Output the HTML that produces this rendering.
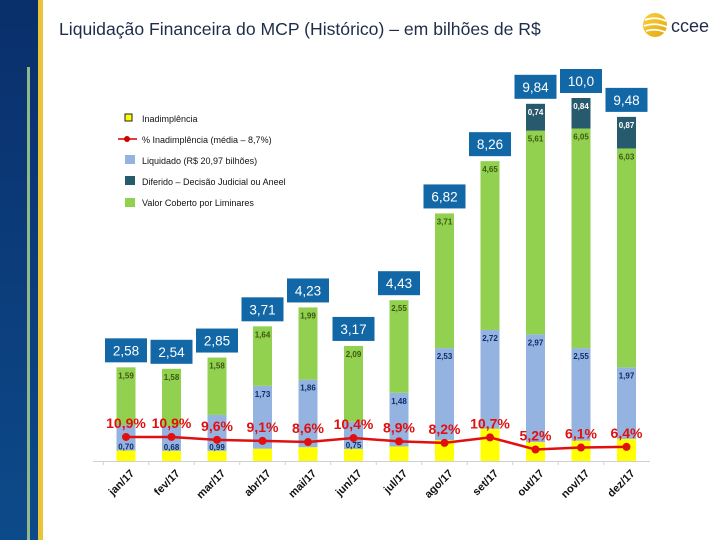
<!DOCTYPE html>
<html><head><meta charset="utf-8"><style>
body{margin:0;width:720px;height:540px;overflow:hidden;background:#fff;font-family:"Liberation Sans",sans-serif}
</style></head><body>
<svg id="c" width="720" height="540" xmlns="http://www.w3.org/2000/svg">
<defs><linearGradient id="lg" x1="0" y1="0" x2="0" y2="1"><stop offset="0" stop-color="#0a2f6b"/><stop offset="1" stop-color="#0d4a8a"/></linearGradient>
<linearGradient id="sun" x1="0" y1="0" x2="1" y2="1"><stop offset="0" stop-color="#f7d23a"/><stop offset="1" stop-color="#e3a712"/></linearGradient></defs>
<rect x="0" y="0" width="38" height="540" fill="url(#lg)"/>
<rect x="38" y="0" width="5" height="540" fill="#e9c43a"/>
<rect x="27" y="67" width="3" height="473" fill="#8fb98a"/>
<text x="59" y="35" font-size="17.6" fill="#1f2d4a">Liquidação Financeira do MCP (Histórico) – em bilhões de R$</text>
<g>
<circle cx="655" cy="25" r="12" fill="url(#sun)"/>
<path d="M645 20 Q655 16 666 21 M644 26 Q655 22 667 27 M646 31 Q655 28 665 32" stroke="#fff" stroke-width="1.8" fill="none"/>
<text x="671" y="32" font-size="18" fill="#1f2d4a">ccee</text></g>
<g font-size="9" fill="#111">
<g><rect x="125" y="114" width="7" height="7" fill="#ffff00" stroke="#222" stroke-width="1"/><text x="142" y="122">Inadimplência</text></g>
<g><line x1="118" y1="139" x2="137" y2="139" stroke="#d10000" stroke-width="1.5"/><circle cx="127" cy="139" r="3" fill="#d10000"/><text x="142" y="143">% Inadimplência (média – 8,7%)</text></g>
<g><rect x="125" y="155" width="10" height="9" fill="#95b3e0"/><text x="142" y="164">Liquidado   (R$ 20,97 bilhões)</text></g>
<g><rect x="125" y="176" width="10" height="9" fill="#285a6e"/><text x="142" y="185">Diferido – Decisão Judicial ou Aneel</text></g>
<g><rect x="125" y="198" width="10" height="9" fill="#92d050"/><text x="142" y="206">Valor Coberto por Liminares</text></g>
</g>
<line x1="93" y1="461.5" x2="650" y2="461.5" stroke="#d0d0d0"/>
<g id="marks"></g>
</svg>
<script>
const months=["jan/17","fev/17","mar/17","abr/17","mai/17","jun/17","jul/17","ago/17","set/17","out/17","nov/17","dez/17"];
const inad=[0.29,0.28,0.28,0.34,0.38,0.33,0.40,0.58,0.89,0.52,0.56,0.61];
const liquidado=[0.70,0.68,0.99,1.73,1.86,0.75,1.48,2.53,2.72,2.97,2.55,1.97];
const liminares=[1.59,1.58,1.58,1.64,1.99,2.09,2.55,3.71,4.65,5.61,6.05,6.03];
const diferido=[0,0,0,0,0,0,0,0,0,0.74,0.84,0.87];
const totals=["2,58","2,54","2,85","3,71","4,23","3,17","4,43","6,82","8,26","9,84","10,0","9,48"];
const pct=[10.9,10.9,9.6,9.1,8.6,10.4,8.9,8.2,10.7,5.2,6.1,6.4];
const NS="http://www.w3.org/2000/svg";
const g=document.getElementById('marks');
const x=i=>126+i*45.5;
const y=v=>461-v*36.3;
const yp=p=>449.5-(p-5.2)*2.2;
const fmt=v=>v.toFixed(2).replace('.',',');
function el(t,a,parent){const e=document.createElementNS(NS,t);for(const k in a)e.setAttribute(k,a[k]);(parent||g).appendChild(e);return e;}
const bw=19;
months.forEach((m,i)=>{
  let base=0;
  const segs=[[inad[i],'#ffff00',null,'bar-inadimplencia'],[liquidado[i],'#95b3e0','#0d2d6b','bar-liquidado'],[liminares[i],'#92d050','#3a5a10','bar-liminares'],[diferido[i],'#285a6e','#fff','bar-diferido']];
  segs.forEach(s=>{
    if(s[0]<=0)return;
    const r=el('rect',{x:x(i)-bw/2,y:y(base+s[0]),width:bw,height:y(base)-y(base+s[0]),fill:s[1]});
    
    
    if(s[2]){
      const ly=(s[3]==='bar-liquidado'&&s[0]<1)?y(base)-1:y(base+s[0])+11;
      const t=el('text',{x:x(i),y:ly,'font-size':8,'font-weight':'bold','text-anchor':'middle',fill:s[2]});t.textContent=fmt(s[0]);
      
      }
    base+=s[0];
  });
  const top=y(base);
  const b=el('rect',{x:x(i)-21,y:top-29,width:42,height:24,fill:'#1267a6'});
  
  
  const tt=el('text',{x:x(i),y:top-12,'font-size':13.5,'text-anchor':'middle',fill:'#fff'});tt.textContent=totals[i];
  
  
  const tk=el('line',{x1:x(i)-22.75,y1:461,x2:x(i)-22.75,y2:465,stroke:'#d0d0d0'});
  
  
  const ml=el('text',{x:0,y:0,'font-size':11,'font-weight':'bold','text-anchor':'end',fill:'#111',transform:`translate(${x(i)+9},${474}) rotate(-45)`});ml.textContent=m;
  
  
});
const pl=el('polyline',{points:pct.map((p,i)=>x(i)+','+yp(p)).join(' '),fill:'none',stroke:'#e01010','stroke-width':2.5});


pct.forEach((p,i)=>{
  const c=el('circle',{cx:x(i),cy:yp(p),r:4,fill:'#e01010'});
  
  
  const t=el('text',{x:x(i),y:yp(p)-9,'font-size':14,'font-weight':'bold','text-anchor':'middle',fill:'#e01010'});t.textContent=p.toFixed(1).replace('.',',')+'%';
  
  
});
</script>
</body></html>
